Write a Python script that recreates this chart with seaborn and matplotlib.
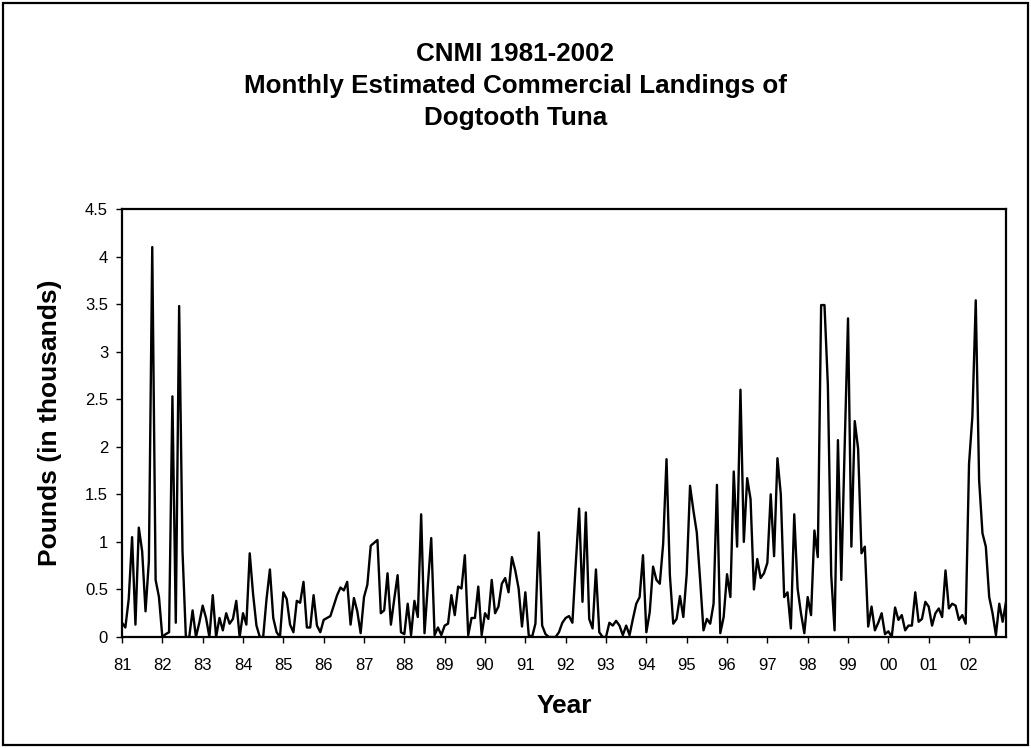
import matplotlib
matplotlib.use("Agg")
import matplotlib.pyplot as plt
import seaborn as sns
import numpy as np
import pandas as pd
from matplotlib.patches import Rectangle

# ---- data (thousands of pounds, monthly, Jan 1981 - Dec 2002) ----
v1981 = [0.15, 0.10, 0.40, 1.05, 0.13, 1.15, 0.90, 0.27, 0.80, 4.10, 0.60, 0.42]
v1982 = [0.00, 0.03, 0.05, 2.53, 0.15, 3.48, 0.90, 0.00, 0.00, 0.28, 0.00, 0.15]
v1983 = [0.33, 0.20, 0.00, 0.44, 0.00, 0.20, 0.07, 0.25, 0.14, 0.19, 0.38, 0.00]
v1984 = [0.25, 0.13, 0.88, 0.45, 0.12, 0.00, 0.00, 0.40, 0.71, 0.20, 0.05, 0.00]
v1985 = [0.47, 0.40, 0.13, 0.05, 0.38, 0.36, 0.58, 0.10, 0.10, 0.44, 0.12, 0.05]
v1986 = [0.18, 0.20, 0.22, 0.33, 0.44, 0.52, 0.49, 0.58, 0.13, 0.41, 0.27, 0.04]
v1987 = [0.42, 0.55, 0.96, 0.99, 1.02, 0.25, 0.28, 0.67, 0.13, 0.40, 0.65, 0.05]
v1988 = [0.03, 0.35, 0.02, 0.38, 0.21, 1.29, 0.04, 0.55, 1.04, 0.02, 0.10, 0.02]
v1989 = [0.12, 0.14, 0.44, 0.23, 0.53, 0.51, 0.86, 0.02, 0.20, 0.20, 0.53, 0.02]
v1990 = [0.25, 0.19, 0.60, 0.25, 0.32, 0.56, 0.62, 0.47, 0.84, 0.70, 0.51, 0.11]
v1991 = [0.47, 0.02, 0.00, 0.14, 1.10, 0.12, 0.03, 0.00, 0.00, 0.00, 0.05, 0.15]
v1992 = [0.20, 0.22, 0.15, 0.77, 1.35, 0.37, 1.31, 0.19, 0.09, 0.71, 0.05, 0.00]
v1993 = [0.00, 0.15, 0.12, 0.17, 0.12, 0.02, 0.12, 0.02, 0.19, 0.35, 0.42, 0.86]
v1994 = [0.05, 0.26, 0.74, 0.60, 0.56, 0.98, 1.87, 0.65, 0.14, 0.19, 0.43, 0.21]
v1995 = [0.66, 1.59, 1.33, 1.10, 0.60, 0.07, 0.19, 0.14, 0.35, 1.60, 0.04, 0.21]
v1996 = [0.66, 0.42, 1.74, 0.95, 2.60, 1.00, 1.67, 1.45, 0.50, 0.82, 0.62, 0.67]
v1997 = [0.78, 1.50, 0.85, 1.88, 1.50, 0.42, 0.47, 0.09, 1.29, 0.51, 0.25, 0.04]
v1998 = [0.42, 0.23, 1.12, 0.84, 3.49, 3.49, 2.65, 0.65, 0.07, 2.07, 0.60, 2.00]
v1999 = [3.35, 0.95, 2.27, 1.98, 0.88, 0.95, 0.11, 0.32, 0.07, 0.15, 0.25, 0.03]
v2000 = [0.06, 0.00, 0.31, 0.18, 0.23, 0.07, 0.12, 0.12, 0.47, 0.16, 0.19, 0.37]
v2001 = [0.32, 0.12, 0.25, 0.30, 0.21, 0.70, 0.30, 0.35, 0.33, 0.18, 0.23, 0.14]
v2002 = [1.82, 2.32, 3.54, 1.65, 1.09, 0.95, 0.42, 0.25, 0.02, 0.35, 0.16, 0.37]

year_labels = ["81", "82", "83", "84", "85", "86", "87", "88", "89", "90", "91",
               "92", "93", "94", "95", "96", "97", "98", "99", "00", "01", "02"]
y_ticks = [0, 0.5, 1, 1.5, 2, 2.5, 3, 3.5, 4, 4.5]
y_tick_labels = ["0", "0.5", "1", "1.5", "2", "2.5", "3", "3.5", "4", "4.5"]

title_text = "CNMI 1981-2002\nMonthly Estimated Commercial Landings of\nDogtooth Tuna"
x_title = "Year"
y_title = "Pounds (in thousands)"

values = (v1981 + v1982 + v1983 + v1984 + v1985 + v1986 + v1987 + v1988 + v1989
          + v1990 + v1991 + v1992 + v1993 + v1994 + v1995 + v1996 + v1997 + v1998
          + v1999 + v2000 + v2001 + v2002)
df = pd.DataFrame({"month": np.arange(len(values)), "pounds": values})

# ---- styling ----
sns.set_theme(style="ticks")
plt.rcParams["font.family"] = ["Liberation Sans", "DejaVu Sans"]

fig = plt.figure(figsize=(10.31, 7.48), dpi=100)
fig.patch.set_facecolor("white")
ax = fig.add_axes([122 / 1031, 1 - 637 / 748, (1006 - 122) / 1031, (637 - 209) / 748])

sns.lineplot(data=df, x="month", y="pounds", ax=ax, color="black", linewidth=1.7)

ax.set_xlim(0, len(values) - 1)
ax.set_ylim(0, 4.5)
ax.set_xticks(np.arange(0, len(values), 12))
ax.set_xticklabels(year_labels)
ax.set_yticks(y_ticks)
ax.set_yticklabels(y_tick_labels)
ax.tick_params(axis="both", direction="out", length=4, width=1, color="black",
               labelsize=12, labelcolor="black", pad=6)
ax.tick_params(axis="x", pad=11)
for sp in ax.spines.values():
    sp.set_visible(True)
    sp.set_color("black")
    sp.set_linewidth(1.6)

ax.set_xlabel(x_title, fontsize=19, fontweight="bold", color="black")
ax.set_ylabel(y_title, fontsize=19, fontweight="bold", color="black")
ax.xaxis.label.set_va("center")
ax.yaxis.label.set_va("center")
ax.xaxis.set_label_coords(0.5, (637 - 706) / (637 - 209))
ax.yaxis.set_label_coords((50 - 122) / (1006 - 122), 0.5)

fig.text(0.5, 1 - 86 / 748, title_text, ha="center", va="center",
         fontsize=18.7, fontweight="bold", linespacing=1.4, color="black")

fig.patches.append(Rectangle((0.003, 0.004), 0.994, 0.992, transform=fig.transFigure,
                             fill=False, edgecolor="black", linewidth=1.6))

fig.savefig("out.png", dpi=100, facecolor="white")
